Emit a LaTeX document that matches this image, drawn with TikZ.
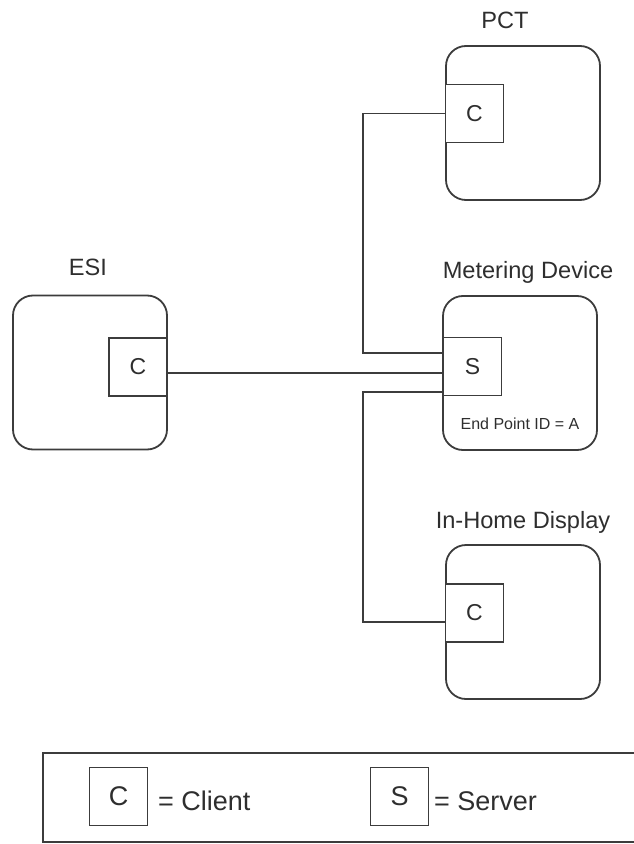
\documentclass[tikz,border=0pt]{standalone}
\usepackage{fontspec}
\setmainfont{Liberation Sans}
\usetikzlibrary{positioning,calc}
\definecolor{lineGray}{HTML}{3C3C3C}
\definecolor{txtGray}{HTML}{2E2E2E}

\begin{document}
\begin{tikzpicture}[x=0.5pt,y=-0.5pt,
    device/.style={draw=lineGray,line width=0.9pt,rounded corners=10pt,
      minimum width=77pt,minimum height=77pt,inner sep=0pt},
    port/.style={draw=lineGray,line width=0.9pt,fill=white,minimum size=29pt,
      inner sep=0pt,text=txtGray,font=\fontsize{11.5}{13}\selectfont},
    devlabel/.style={text=txtGray,font=\fontsize{11.8}{14}\selectfont},
    keytext/.style={text=txtGray,anchor=base west,font=\fontsize{13.5}{16}\selectfont},
    link/.style={draw=lineGray,line width=0.9pt}]
  \useasboundingbox (0,0) rectangle (633,844);

  % devices
  \node[device] (pct) at (523,123) {};
  \node[device] (esi) at (90,372.5) {};
  \node[device] (md)  at (520,373) {};
  \node[device] (ihd) at (523,622) {};

  \node[devlabel] (pctLbl) at (505,20)  {PCT};
  \node[devlabel] (esiLbl) at (88,267)  {ESI};
  \node[devlabel] (mdLbl)  at (528,272) {Metering Device};
  \node[devlabel] (ihdLbl) at (523,522) {In-Home Display};
  \node[text=txtGray,font=\fontsize{8}{10}\selectfont] (epid) at (520,424) {End Point ID = A};

  % client / server ports
  \node[port] (pctC) at (474.5,113.5) {C};
  \node[port] (esiC) at (138,367)     {C};
  \node[port] (mdS)  at (472.5,366.5) {S};
  \node[port] (ihdC) at (474.5,613)   {C};

  % links
  \coordinate (bendTop) at (363,353);
  \coordinate (bendLow) at (363,392);
  \draw[link] (pctC.west) -| (bendTop) -- (bendTop -| mdS.west);
  \draw[link] ([yshift=-3pt]esiC.east) -- ([yshift=-3pt]esiC.east -| mdS.west);
  \draw[link] (bendLow -| mdS.west) -- (bendLow) |- ([yshift=-4.5pt]ihdC.west);

  % key
  \draw[link] (640,753) -| (43,842) -- (640,842);
  \node[port,font=\fontsize{13.5}{16}\selectfont] (keyC) at (118.5,796.5) {C};
  \node[keytext] (keyCTxt) at (151,810) {= Client};
  \node[port,font=\fontsize{13.5}{16}\selectfont] (keyS) at (399.5,796.5) {S};
  \node[keytext] (keySTxt) at (427,810) {= Server};
\end{tikzpicture}
\end{document}
